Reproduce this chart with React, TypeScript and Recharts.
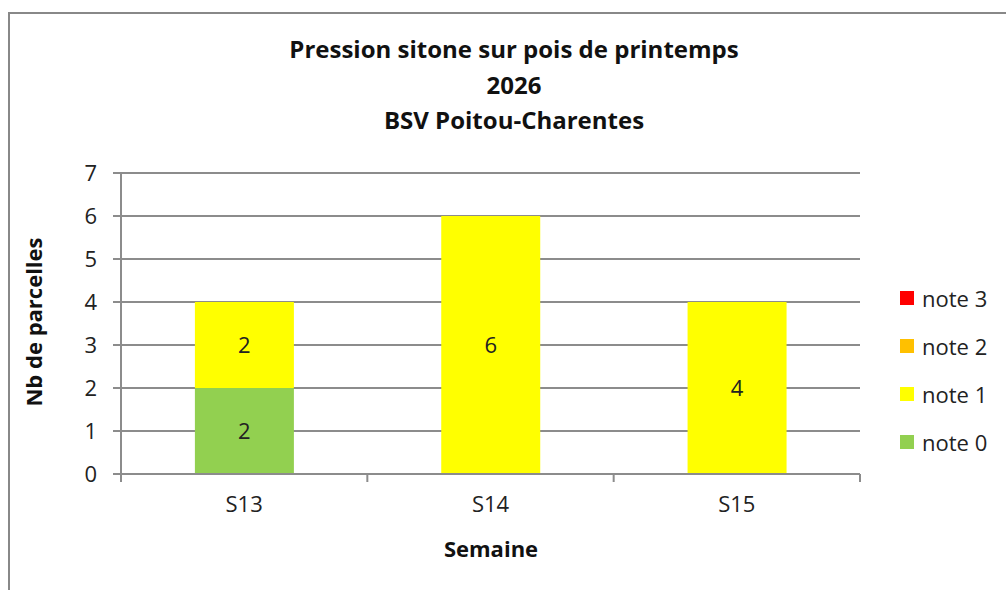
import { BarChart, Bar, XAxis, YAxis, CartesianGrid, LabelList } from 'recharts';

const weeks = ["S13", "S14", "S15"];
const note0 = [2, 0, 0];
const note1 = [2, 6, 4];
const note2 = [0, 0, 0];
const note3 = [0, 0, 0];
const yTicks = [0, 1, 2, 3, 4, 5, 6, 7];

const series = [
  { key: "note0", name: "note 0", color: "#92D050", values: note0 },
  { key: "note1", name: "note 1", color: "#FFFF00", values: note1 },
  { key: "note2", name: "note 2", color: "#FFC000", values: note2 },
  { key: "note3", name: "note 3", color: "#FF0000", values: note3 },
];

const data = weeks.map((w, i) => {
  const row: Record<string, string | number> = { week: w };
  series.forEach((s) => (row[s.key] = s.values[i]));
  return row;
});

const FONT = "'Open Sans', sans-serif";
const GRID = "#8c8c8c";

// ticks between the categories, like Excel
const WeekTick = (props: any) => {
  const { x, y, payload, width, visibleTicksCount } = props;
  const half = width / visibleTicksCount / 2;
  const axisY = 474;
  return (
    <g>
      <line x1={x - half} x2={x - half} y1={axisY} y2={axisY + 8} stroke={GRID} strokeWidth={2} />
      {props.index === visibleTicksCount - 1 && (
        <line x1={x + half} x2={x + half} y1={axisY} y2={axisY + 8} stroke={GRID} strokeWidth={2} />
      )}
      <text x={x} y={y} dy={22} textAnchor="middle" fill="#222" fontSize={22} fontFamily={FONT}>
        {payload.value}
      </text>
    </g>
  );
};

export default function App() {
  return (
    <div style={{ position: "absolute", left: 0, top: 0, width: 1006, height: 590, overflow: "hidden", background: "#fff" }}>
      <div style={{ position: "absolute", left: 8, top: 12, width: 1100, height: 700, borderLeft: "2px solid #888", borderTop: "2px solid #888" }} />
      <div style={{ position: "absolute", left: 0, top: 31, width: 1028, textAlign: "center", fontFamily: FONT, fontWeight: "bold", fontSize: 24, lineHeight: "35.5px", color: "#111" }}>
        <div>Pression sitone sur pois de printemps</div>
        <div>2026</div>
        <div>BSV Poitou-Charentes</div>
      </div>
      <div style={{ position: "absolute", left: 33, top: 322, transform: "translate(-50%, -50%) rotate(-90deg)", whiteSpace: "nowrap", fontFamily: FONT, fontWeight: "bold", fontSize: 22, color: "#111" }}>
        Nb de parcelles
      </div>
      <div style={{ position: "absolute", left: 491, top: 548, transform: "translate(-50%, -50%)", fontFamily: FONT, fontWeight: "bold", fontSize: 22, color: "#111" }}>
        Semaine
      </div>
      <div style={{ position: "absolute", left: 900, top: 274, fontFamily: FONT, fontSize: 22, color: "#222" }}>
        {[...series].reverse().map((s) => (
          <div key={s.key} style={{ display: "flex", alignItems: "center", height: 48 }}>
            <span style={{ width: 14, height: 14, background: s.color, marginRight: 8, display: "inline-block" }} />
            {s.name}
          </div>
        ))}
      </div>
      <BarChart
        width={1006}
        height={590}
        data={data}
        margin={{ top: 173, right: 146, left: 0, bottom: 76 }}
        barCategoryGap="30%"
        style={{ position: "absolute", left: 0, top: 0 }}
      >
        <CartesianGrid vertical={false} stroke={GRID} strokeWidth={2} />
        <XAxis
          dataKey="week"
          height={40}
          tick={<WeekTick />}
          tickLine={false}
          axisLine={{ stroke: GRID, strokeWidth: 2 }}
          tickSize={8}
          tickMargin={8}
        />
        <YAxis
          width={121}
          domain={[0, 7]}
          ticks={yTicks}
          interval={0}
          tickSize={8}
          tickMargin={16}
          axisLine={{ stroke: GRID, strokeWidth: 2 }}
          tickLine={{ stroke: GRID, strokeWidth: 2 }}
          tick={{ fill: "#222", fontSize: 22, fontFamily: FONT }}
        />
        {series.map((s) => (
          <Bar key={s.key} dataKey={s.key} name={s.name} stackId="a" fill={s.color} isAnimationActive={false}>
            <LabelList
              dataKey={s.key}
              position="center"
              formatter={(v: any) => (v ? v : "")}
              style={{ fill: "#222", fontSize: 22, fontFamily: FONT }}
            />
          </Bar>
        ))}
      </BarChart>
    </div>
  );
}
